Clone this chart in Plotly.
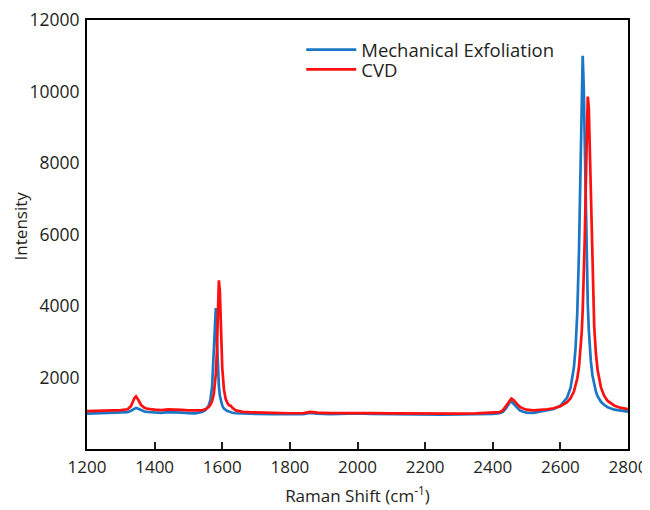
import plotly.graph_objects as go

raman_shift = [1200, 1220, 1240, 1260, 1280, 1300, 1320, 1330, 1340, 1345, 1350, 1360, 1370, 1380,
               1400, 1420, 1440, 1460, 1480, 1500, 1520, 1540,
               1550, 1560, 1565, 1570, 1575, 1578, 1581, 1584, 1587, 1590, 1593, 1596, 1600, 1605,
               1610, 1615, 1620, 1625, 1630, 1640,
               1660, 1680, 1700, 1750, 1800, 1840, 1860, 1880, 1920, 1960, 2000, 2040, 2100, 2150,
               2200, 2250, 2300, 2350, 2400,
               2420, 2430, 2440, 2450, 2455, 2460, 2470, 2480, 2490, 2500, 2520,
               2540, 2560, 2580, 2600, 2620, 2630, 2640, 2645, 2650, 2655, 2660, 2663, 2666, 2669,
               2672, 2675, 2678, 2681, 2684, 2687, 2690, 2695, 2700, 2705, 2710, 2720, 2730, 2740,
               2760, 2780, 2800]

mech_exfoliation = [990, 995, 1000, 1005, 1005, 1010, 1030, 1070, 1140, 1150, 1130, 1080, 1050, 1035,
                    1020, 1010, 1030, 1030, 1020, 1005, 995, 1035,
                    1083, 1214, 1377, 1750, 2711, 3500, 3940, 3100, 2220, 1750, 1488, 1334, 1214, 1130,
                    1083, 1060, 1050, 1030, 1015, 1000,
                    990, 985, 980, 975, 970, 975, 1010, 990, 975, 985, 995, 980, 970, 965,
                    962, 962, 965, 970, 980,
                    1000, 1040, 1150, 1300, 1330, 1280, 1160, 1080, 1040, 1020, 1010,
                    1050, 1070, 1120, 1210, 1440, 1706, 2280, 2840, 3800, 5515, 8343, 10150, 11000, 10150,
                    8343, 6515, 5090, 4067, 3350, 2840, 2470, 2050, 1790, 1610, 1480, 1320, 1230, 1170,
                    1100, 1066, 1045]

cvd = [1060, 1065, 1070, 1075, 1080, 1085, 1110, 1200, 1420, 1470, 1400, 1230, 1150, 1120,
       1100, 1090, 1110, 1110, 1095, 1080, 1070, 1080,
       1110, 1174, 1235, 1339, 1537, 1750, 2103, 2710, 3667, 4720, 4400, 3313, 2271, 1667,
       1403, 1290, 1220, 1210, 1150, 1080,
       1040, 1030, 1020, 1010, 1000, 1005, 1040, 1020, 1005, 1010, 1020, 1005, 995, 990,
       985, 985, 990, 995, 1005,
       1030, 1080, 1200, 1350, 1410, 1380, 1270, 1180, 1130, 1100, 1080,
       1092, 1111, 1141, 1195, 1308, 1417, 1605, 1755, 1970, 2293, 2800, 3251, 3864, 4711,
       5859, 7303, 8814, 9860, 9559, 8330, 6795, 4711, 3433, 2678, 2216, 1721, 1479, 1345,
       1212, 1149, 1116]

x_ticks = [1200, 1400, 1600, 1800, 2000, 2200, 2400, 2600, 2800]
y_ticks = [2000, 4000, 6000, 8000, 10000, 12000]

FONT = "Open Sans"
TXT = "#231f20"

fig = go.Figure()
fig.add_trace(go.Scatter(x=raman_shift, y=mech_exfoliation, mode="lines",
                         name="Mechanical Exfoliation", legend="legend",
                         line=dict(color="#1b76c6", width=2.7)))
fig.add_trace(go.Scatter(x=raman_shift, y=cvd, mode="lines", name="CVD",
                         legend="legend2",
                         line=dict(color="#ff1010", width=2.7)))

legend_common = dict(xanchor="left", yanchor="middle", bgcolor="rgba(0,0,0,0)",
                     itemwidth=50, font=dict(family=FONT, size=18.5, color=TXT))

fig.update_layout(
    width=642, height=502,
    margin=dict(l=79, r=22, t=12, b=61),
    paper_bgcolor="white", plot_bgcolor="white",
    font=dict(family=FONT, size=17, color=TXT),
    showlegend=True,
    legend=dict(x=0.396, y=0.930, **legend_common),
    legend2=dict(x=0.396, y=0.884, **legend_common),
    xaxis=dict(range=[1200, 2800], tickvals=x_ticks,
               ticktext=[str(v) for v in x_ticks],
               ticks="inside", ticklen=7, automargin=False,
               ticklabeloverflow="allow",
               tickwidth=2, tickcolor=TXT, showline=True, linecolor="#000000",
               linewidth=2, mirror=True, showgrid=False, zeroline=False,
               ticklabelstandoff=2, tickfont=dict(size=17),
               title=dict(text="Raman Shift (cm<sup>-1</sup>)", standoff=13,
                          font=dict(family=FONT, size=17))),
    yaxis=dict(range=[0, 12000], tickvals=y_ticks,
               ticktext=[str(v) for v in y_ticks], automargin=False,
               ticklabeloverflow="allow",
               ticks="", showline=True,
               linecolor="#000000", linewidth=2, mirror=True, showgrid=False,
               zeroline=False, ticklabelstandoff=2, tickfont=dict(size=17.5)),
    annotations=[dict(text="Intensity", textangle=-90, xref="paper", yref="paper",
                      x=-0.123, y=0.52, xanchor="center", yanchor="middle",
                      showarrow=False, font=dict(family=FONT, size=17, color=TXT))],
)

fig.write_html("out.html")
